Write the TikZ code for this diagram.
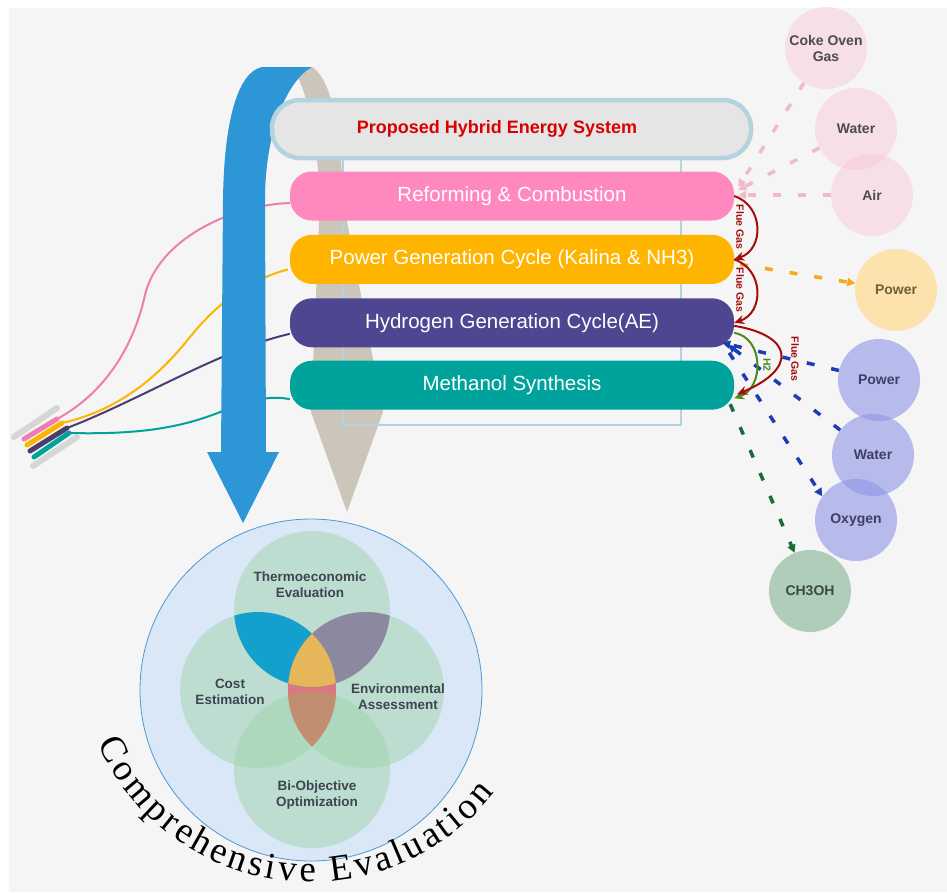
\documentclass[tikz,border=0pt]{standalone}
\usepackage{fontspec}
\setmainfont{Liberation Sans}
\newfontfamily\arcfont{Liberation Serif}
\usepackage{tikz}
\usetikzlibrary{arrows.meta,positioning,decorations.text}

\pgfdeclarelayer{background}
\pgfsetlayers{background,main}

\definecolor{bgpanel}{HTML}{F5F5F5}
\definecolor{refpink}{HTML}{FF88BE}
\definecolor{pgcyellow}{HTML}{FFB500}
\definecolor{hgpurple}{HTML}{4E4691}
\definecolor{methteal}{HTML}{00A39B}
\definecolor{sysgray}{HTML}{E5E5E5}
\definecolor{sysedge}{HTML}{B3D4DE}
\definecolor{sysred}{HTML}{D90000}
\definecolor{evalblue}{HTML}{2D96D6}
\definecolor{beige}{HTML}{CCC6BA}
\definecolor{fluered}{HTML}{A30D0D}
\definecolor{htwogreen}{HTML}{4E8A17}
\definecolor{feedpink}{HTML}{F9C6D7}
\definecolor{feeddash}{HTML}{F2B8CB}
\definecolor{powyellow}{HTML}{FDE2AE}
\definecolor{powdash}{HTML}{F7A81B}
\definecolor{elecpurple}{HTML}{8F95E6}
\definecolor{elecblue}{HTML}{1C3DB5}
\definecolor{meohgreen}{HTML}{AFCDB9}
\definecolor{meohdash}{HTML}{1B6B3A}
\definecolor{plugshade}{HTML}{D6D6D6}
\definecolor{wirepurple}{HTML}{4B3D6E}
\definecolor{wirepink}{HTML}{F07DB0}
\definecolor{evalbg}{HTML}{DAE7F7}
\definecolor{evaledge}{HTML}{4C9AD2}
\definecolor{vgreen}{HTML}{9FD4A9}
\definecolor{lensblue}{HTML}{14A0CC}
\definecolor{lenspurple}{HTML}{8C88A0}
\definecolor{lensyellow}{HTML}{E6B65A}
\definecolor{lenspink}{HTML}{D9787F}
\definecolor{lensbrown}{HTML}{C18E72}
\definecolor{vtext}{HTML}{3F4452}

\tikzstyle{stage} = [rectangle, rounded corners=22pt, minimum width=444pt, minimum height=49pt, inner sep=0pt, text=white, font=\fontsize{20.5}{24}\selectfont]
\tikzstyle{sysbox} = [rectangle, rounded corners=28pt, minimum width=479pt, minimum height=58pt, fill=sysgray, draw=sysedge, line width=4.5pt]
\tikzstyle{systitle} = [text=sysred, font=\fontsize{18}{22}\selectfont\bfseries]
\tikzstyle{stream} = [circle, minimum size=82pt, inner sep=0pt, align=center, font=\fontsize{14}{16}\selectfont\bfseries, fill opacity=0.6, text opacity=1]
\tikzstyle{feed} = [line width=3.5pt, dash pattern=on 8pt off 17pt, -{Triangle[length=8pt,width=8pt]}]
\tikzstyle{fluearrow} = [line width=2pt, -{Stealth[length=10pt,width=9pt]}]
\tikzstyle{fluelabel} = [rotate=-90, inner sep=0pt, font=\fontsize{10.5}{12}\selectfont\bfseries]
\tikzstyle{wire} = [line width=2pt]
\tikzstyle{stub} = [line width=5pt, line cap=round]
\tikzstyle{ring} = [circle, minimum size=342pt, inner sep=0pt, fill=evalbg, draw=evaledge, line width=0.8pt]
\tikzstyle{venn} = [circle, minimum size=156pt, inner sep=0pt, fill=vgreen, fill opacity=0.5]
\tikzstyle{vlabel} = [text=vtext, align=center, font=\fontsize{13.5}{16}\selectfont\bfseries]

\begin{document}
\begin{tikzpicture}[x=1pt,y=1pt]
    \useasboundingbox (0,0) rectangle (947,-892);

    % system block
    \node[sysbox] (hes) at (511.5,-129) {};
    \node[systitle] (hestext) at (497,-129) {Proposed Hybrid Energy System};
    \node[stage, fill=refpink] (refm) at (512,-196) {Reforming \& Combustion};
    \node[stage, fill=pgcyellow, below=14pt of refm] (pgc) {Power Generation Cycle (Kalina \& NH3)};
    \node[stage, fill=hgpurple, below=14pt of pgc] (hgc) {Hydrogen Generation Cycle(AE)};
    \node[stage, fill=methteal, below=13pt of hgc] (meth) {Methanol Synthesis};

    % streams in and out
    \node[stream, fill=feedpink, fill opacity=0.45, text=black!70] (cog) at (826,-48) {Coke Oven\\Gas};
    \node[stream, fill=feedpink, fill opacity=0.45, text=black!70] (wtr) at (856,-129) {Water};
    \node[stream, fill=feedpink, fill opacity=0.45, text=black!70] (air) at (872,-195) {Air};
    \node[stream, fill=powyellow, fill opacity=1, text={rgb,255:red,110;green,96;blue,54}] (pwr) at (896,-290) {Power};
    \node[stream, fill=elecpurple, text={rgb,255:red,62;green,62;blue,104}] (pwrh) at (879,-380) {Power};
    \node[stream, fill=elecpurple, text={rgb,255:red,62;green,62;blue,104}] (wtrh) at (873,-455) {Water};
    \node[stream, fill=elecpurple, text={rgb,255:red,62;green,62;blue,104}] (oxy) at (856,-520) {Oxygen};
    \node[stream, fill=meohgreen, fill opacity=1, text={rgb,255:red,60;green,74;blue,66}] (meoh) at (810,-591) {CH3OH};

    \draw[feed, feeddash] (cog) -- ([xshift=4pt,yshift=9pt]refm.east);
    \draw[feed, feeddash] (wtr) -- ([xshift=4pt,yshift=6pt]refm.east);
    \draw[feed, feeddash] (air) -- ([xshift=4pt,yshift=1pt]refm.east);
    \draw[feed, powdash] ([xshift=6pt,yshift=-5pt]pgc.east) -- (pwr);
    \draw[feed, elecblue] (pwrh) -- ([xshift=-12pt,yshift=-20pt]hgc.east);
    \draw[feed, elecblue] (wtrh) -- ([xshift=-6pt,yshift=-22pt]hgc.east);
    \draw[feed, elecblue] ([xshift=-5pt,yshift=-30pt]hgc.east) -- (oxy.145);
    \draw[feed, meohdash] ([xshift=-4pt,yshift=-19pt]meth.east) -- (meoh.112);

    % flue gas and hydrogen links
    \draw[fluearrow, fluered] (refm.east) .. controls +(30,-10) and +(30,10) .. (pgc.east);
    \draw[fluearrow, fluered] (pgc.east) .. controls +(30,-10) and +(30,10) .. (hgc.east);
    \draw[fluearrow, htwogreen] ([yshift=-10pt]hgc.east) .. controls +(30,-5) and +(30,10) .. ([yshift=-13pt]meth.east);
    \draw[fluearrow, fluered] ([yshift=-3pt]hgc.east) .. controls +(60,-10) and +(60,25) .. ([xshift=3pt,yshift=-9pt]meth.east);
    \node[fluelabel, text=fluered] (fg1) at (740,-227) {Flue Gas};
    \node[fluelabel, text=fluered] (fg2) at (740,-290) {Flue Gas};
    \node[fluelabel, text=fluered] (fg3) at (795,-359) {Flue Gas};
    \node[fluelabel, text=htwogreen] (htwo) at (767,-365) {H2};

    % evaluation circle
    \node[ring] (evalring) at (311,-690) {};
    \node[venn] (thermo) at (312,-609) {};
    \node[venn] (cost) at (258,-690) {};
    \node[venn] (envt) at (366,-690) {};
    \node[venn] (biobj) at (312,-770) {};
    \begin{scope}
        \clip (cost.center) circle (78pt);
        \fill[lenspink] (envt.center) circle (78pt);
    \end{scope}
    \begin{scope}
        \clip (thermo.center) circle (78pt);
        \fill[lensblue] (cost.center) circle (78pt);
        \fill[lenspurple] (envt.center) circle (78pt);
        \clip (cost.center) circle (78pt);
        \fill[lensyellow] (envt.center) circle (78pt);
    \end{scope}
    \begin{scope}
        \clip (biobj.center) circle (78pt);
        \clip (cost.center) circle (78pt);
        \fill[lensbrown] (envt.center) circle (78pt);
    \end{scope}
    \node[vlabel] (thermotext) at (310,-585) {Thermoeconomic\\Evaluation};
    \node[vlabel] (costtext) at (230,-692) {Cost\\Estimation};
    \node[vlabel] (envttext) at (398,-697) {Environmental\\Assessment};
    \node[vlabel] (biobjtext) at (317,-795) {Bi-Objective\\Optimization};

    \path[decorate, decoration={text along path, text align={fit to path},
        text={|\arcfont\fontsize{37}{42}\selectfont|Comprehensive Evaluation}}]
        (311,-649) ++(204:233) arc[start angle=204, end angle=322, radius=233];

    \begin{pgfonlayer}{background}
        \fill[white] (0,0) rectangle (947,-892);
        \fill[bgpanel] (9,-8) rectangle (947,-892);

        % cable plug
        \draw[line width=6pt, line cap=round, plugshade] (14,-437) -- (57,-408);
        \draw[line width=6pt, line cap=round, plugshade] (33,-466) -- (77,-437);
        \draw[stub, wirepink] (24,-439) -- coordinate[pos=1] (plugpk) (57,-419);
        \draw[stub, pgcyellow] (27,-445) -- coordinate[pos=1] (plugyl) (62,-423);
        \draw[stub, wirepurple] (30,-451) -- coordinate[pos=1] (plugpr) (67,-428);
        \draw[stub, methteal] (34,-457) -- coordinate[pos=1] (plugtl) (69,-433);

        \draw[wire, wirepink] (plugpk) .. controls (110,-390) and (135,-340) .. (145,-295)
            .. controls (158,-240) and (230,-205) .. ([yshift=-7pt]refm.west);
        \draw[wire, pgcyellow] (plugyl) .. controls (120,-410) and (160,-375) .. (190,-337)
            .. controls (220,-300) and (250,-280) .. ([xshift=-2pt,yshift=-10pt]pgc.west);
        \draw[wire, wirepurple] (plugpr) .. controls (140,-400) and (220,-350) .. ([yshift=-11pt]hgc.west);
        \draw[wire, methteal] (plugtl) .. controls (150,-435) and (190,-425) .. (230,-408)
            .. controls (255,-398) and (275,-396) .. ([yshift=-14pt]meth.west);

        % the two arrows into the evaluation
        \fill[beige] (292,-67) -- (312,-67) .. controls (326,-75) and (341,-110) .. (343,-200)
            -- (383,-412) -- (347,-512) -- (311,-412) -- (320,-200)
            .. controls (317,-130) and (305,-85) .. (292,-67) -- cycle;
        \fill[evalblue] (262,-67) -- (312,-67) .. controls (288,-80) and (265,-130) .. (265,-200)
            -- (266,-452) -- (279,-452) -- (243,-523) -- (207,-452) -- (221,-452) -- (223,-200)
            .. controls (224,-120) and (238,-72) .. (262,-67) -- cycle;

        \draw[sysedge, line width=1.5pt] (343,-158) rectangle (681,-425);
    \end{pgfonlayer}
\end{tikzpicture}
\end{document}
